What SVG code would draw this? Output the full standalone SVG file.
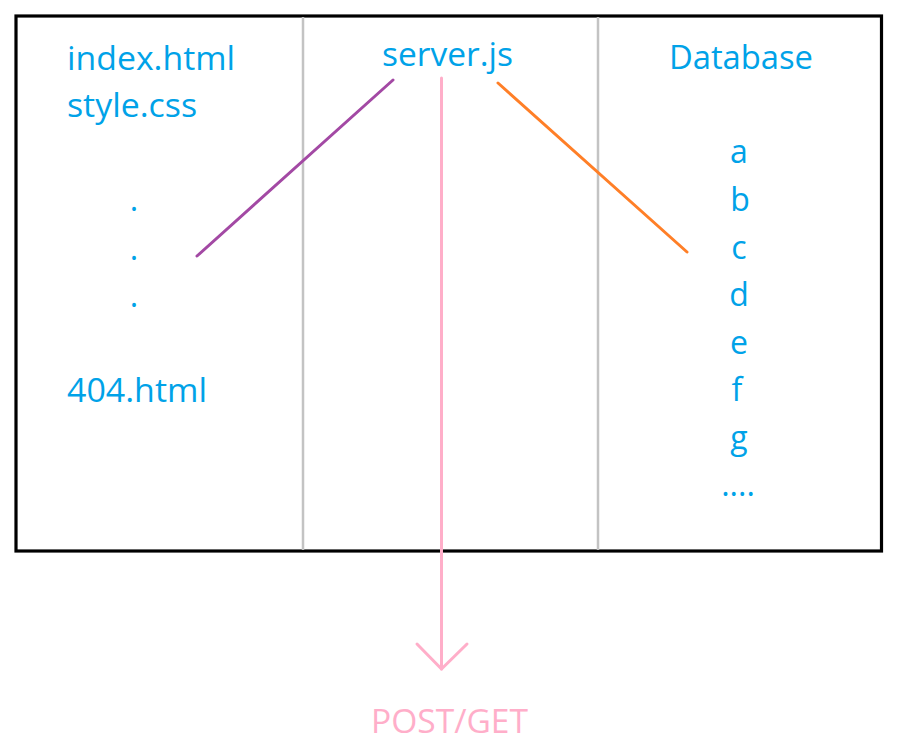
<svg xmlns="http://www.w3.org/2000/svg" width="903" height="753" viewBox="0 0 903 753">
<style>
.t{font-family:"Open Sans","Liberation Sans",sans-serif;font-size:32px;fill:#00a2e8}
.c{text-anchor:middle}
.div{stroke:#c3c3c3;stroke-width:2.5;fill:none}
.conn{fill:none;stroke-width:3;stroke-linecap:round;stroke-linejoin:round}
</style>
<rect width="903" height="753" fill="#ffffff"/>
<g id="frame">
<rect x="16" y="16" width="865.5" height="535" fill="none" stroke="#000" stroke-width="3.2"/>
<line class="div" x1="303" y1="17" x2="303" y2="550"/>
<line class="div" x1="598" y1="17" x2="598" y2="550"/>
</g>
<g id="connectors">
<line class="conn" x1="393" y1="80" x2="197" y2="256" stroke="#a349a4"/>
<line class="conn" x1="498" y1="83" x2="687" y2="252" stroke="#ff7f27"/>
<line class="conn" x1="441.5" y1="78" x2="441.5" y2="669" stroke="#ffaec9"/>
<polyline class="conn" points="417,644 441.5,669 467,644" stroke="#ffaec9"/>
</g>
<g id="files">
<text class="t" x="67" y="70" textLength="168" lengthAdjust="spacingAndGlyphs">index.html</text>
<text class="t" x="67" y="117" textLength="130" lengthAdjust="spacingAndGlyphs">style.css</text>
<text class="t c" x="134" y="211">.</text>
<text class="t c" x="134" y="260">.</text>
<text class="t c" x="134" y="307">.</text>
<text class="t" x="67" y="402" textLength="140" lengthAdjust="spacingAndGlyphs">404.html</text>
</g>
<g id="server">
<text class="t" x="382" y="66" textLength="131" lengthAdjust="spacingAndGlyphs">server.js</text>
</g>
<g id="database">
<text class="t" x="669" y="69" textLength="144" lengthAdjust="spacingAndGlyphs">Database</text>
<text class="t c" x="739" y="163">a</text>
<text class="t c" x="740" y="211">b</text>
<text class="t c" x="739" y="259">c</text>
<text class="t c" x="739" y="306">d</text>
<text class="t c" x="739" y="354">e</text>
<text class="t c" x="737" y="401">f</text>
<text class="t c" x="739" y="449">g</text>
<text class="t c" x="738" y="496">....</text>
</g>
<g id="request">
<text class="t" x="371" y="733" textLength="157" lengthAdjust="spacingAndGlyphs" style="fill:#ffaec9">POST/GET</text>
</g>
</svg>
